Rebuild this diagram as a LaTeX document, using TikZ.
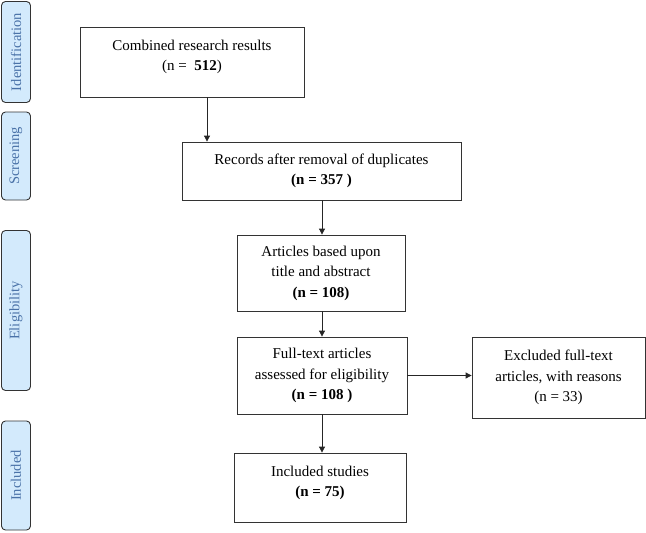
\documentclass[tikz,border=0pt]{standalone}
\usepackage{fontspec}
\setmainfont{Liberation Serif}
\newfontfamily\sidefont{Liberation Serif}
\usetikzlibrary{arrows.meta}
\definecolor{sidefill}{HTML}{D3EAFC}
\definecolor{sidetext}{HTML}{4A72A8}
\definecolor{sideline}{HTML}{333333}
\begin{document}
\begin{tikzpicture}[x=1pt,y=-1pt,
  sidebox/.style={draw=sideline,line width=0.9pt,fill=sidefill,rounded corners=4pt},
  sidelabel/.style={rotate=90,text=sidetext,font=\sidefont\fontsize{14.5}{17}\selectfont},
  flowbox/.style={draw=black!80,line width=0.8pt,align=center,font=\fontsize{15}{20.5}\selectfont},
  arr/.style={-{Triangle[length=6pt,width=6pt]},line width=0.8pt,black!85}]
\useasboundingbox (0,0) rectangle (646,533);
% side stage boxes
\node[sidebox,minimum width=29pt,minimum height=101pt] (sid) at (16,52) {};
\node[sidelabel] (lid) at (sid.center) {Identification};
\node[sidebox,minimum width=29pt,minimum height=88pt] (ssc) at (16,156) {};
\node[sidelabel] (lsc) at (ssc.center) {Screening};
\node[sidebox,minimum width=29pt,minimum height=160pt] (sel) at (16,310.5) {};
\node[sidelabel] (lel) at (sel.center) {Eligibility};
\node[sidebox,minimum width=29pt,minimum height=109pt] (sin) at (16,475.5) {};
\node[sidelabel] (lin) at (sin.center) {Included};
% flow boxes
\node[flowbox,minimum width=224pt,minimum height=70pt] (b1) at (192,62) {};
\node[flowbox,draw=none,minimum width=0pt,minimum height=0pt] (t1) at (192,57) {Combined research results\\(n = \ \textbf{512})};
\node[flowbox,minimum width=279pt,minimum height=58pt] (b2) at (321.5,171) {Records after removal of duplicates\\\textbf{(n = 357 )}};
\node[flowbox,minimum width=168pt,minimum height=76pt] (b3) at (321,273) {Articles based upon\\title and abstract\\\textbf{(n = 108)}};
\node[flowbox,minimum width=170pt,minimum height=77pt] (b4) at (322,375.5) {Full-text articles\\assessed for eligibility\\\textbf{(n = 108 )}};
\node[flowbox,minimum width=173pt,minimum height=81pt] (b5) at (558.5,377.5) {Excluded full-text\\articles, with reasons\\(n = 33)};
\node[flowbox,minimum width=172pt,minimum height=69pt] (b6) at (320,487.5) {};
\node[flowbox,draw=none,minimum width=0pt,minimum height=0pt] (t6) at (320,483) {Included studies\\\textbf{(n = 75)}};
% connectors
\draw[arr] (b1.south -| 207,0) -- (207,0 |- b2.north);
\draw[arr] (b2.south -| 322,0) -- (322,0 |- b3.north);
\draw[arr] (b3.south -| 322,0) -- (322,0 |- b4.north);
\draw[arr] (b4.south -| 322,0) -- (322,0 |- b6.north);
\draw[arr] (b4.east) -- (b4.east -| b5.west);
\end{tikzpicture}
\end{document}
